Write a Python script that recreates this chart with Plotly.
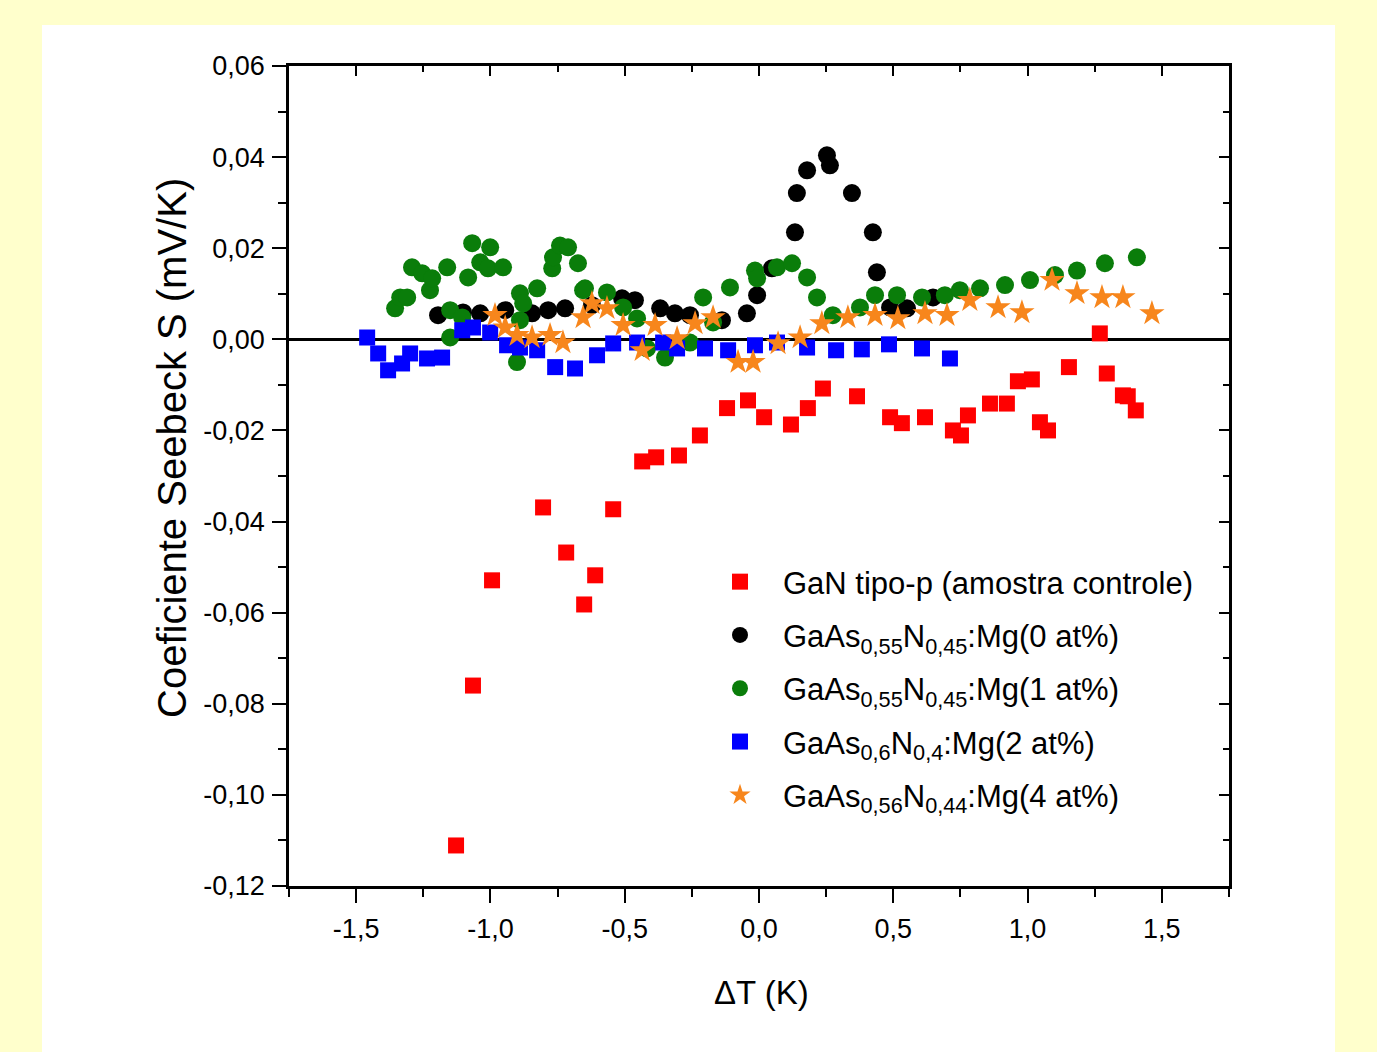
import plotly.graph_objects as go

# ---------------- data ----------------
red_x = [-1.128, -1.065, -0.994, -0.804, -0.718, -0.651, -0.610, -0.543, -0.435, -0.383,
         -0.298, -0.220, -0.119, -0.041, 0.019, 0.119, 0.182, 0.238, 0.365, 0.488,
         0.532, 0.618, 0.722, 0.752, 0.778, 0.860, 0.923, 0.964, 1.016, 1.046,
         1.076, 1.154, 1.269, 1.295, 1.355, 1.373, 1.403]
red_y = [-0.1111, -0.0760, -0.0529, -0.0369, -0.0468, -0.0582, -0.0518, -0.0373, -0.0268, -0.0259,
         -0.0255, -0.0211, -0.0151, -0.0134, -0.0171, -0.0187, -0.0151, -0.0108, -0.0125, -0.0171,
         -0.0184, -0.0171, -0.0200, -0.0211, -0.0167, -0.0141, -0.0141, -0.0092, -0.0088, -0.0182,
         -0.0200, -0.0061, 0.0013, -0.0075, -0.0123, -0.0125, -0.0156]

black_x = [-1.195, -1.102, -1.038, -0.945, -0.845, -0.785, -0.722, -0.622, -0.510, -0.462,
           -0.368, -0.313, -0.257, -0.138, -0.045, -0.007, 0.048, 0.134, 0.141, 0.179,
           0.253, 0.264, 0.346, 0.424, 0.439, 0.488, 0.551, 0.648]
black_y = [0.0053, 0.0059, 0.0057, 0.0064, 0.0057, 0.0064, 0.0068, 0.0075, 0.0090, 0.0086,
           0.0068, 0.0057, 0.0053, 0.0042, 0.0057, 0.0097, 0.0156, 0.0235, 0.0321, 0.0371,
           0.0404, 0.0382, 0.0321, 0.0235, 0.0147, 0.0070, 0.0068, 0.0092]

green_x = [-1.355, -1.336, -1.310, -1.292, -1.254, -1.225, -1.217, -1.161, -1.150, -1.150,
           -1.105, -1.083, -1.068, -1.038, -1.009, -1.001, -0.953, -0.901, -0.890, -0.890,
           -0.878, -0.826, -0.770, -0.767, -0.741, -0.711, -0.674, -0.655, -0.648, -0.566,
           -0.506, -0.454, -0.417, -0.350, -0.257, -0.208, -0.171, -0.108, -0.015, -0.007,
           0.067, 0.123, 0.179, 0.216, 0.275, 0.376, 0.432, 0.514, 0.607, 0.692,
           0.748, 0.823, 0.916, 1.009, 1.102, 1.184, 1.288, 1.407]
green_y = [0.0068, 0.0092, 0.0092, 0.0158, 0.0145, 0.0108, 0.0134, 0.0158, 0.0064, 0.0004,
           0.0048, 0.0136, 0.0211, 0.0169, 0.0156, 0.0202, 0.0158, -0.0050, 0.0101, 0.0042,
           0.0079, 0.0112, 0.0156, 0.0180, 0.0206, 0.0202, 0.0167, 0.0108, 0.0112, 0.0103,
           0.0070, 0.0046, -0.0020, -0.0040, -0.0007, 0.0092, 0.0037, 0.0114, 0.0151, 0.0134,
           0.0158, 0.0167, 0.0136, 0.0092, 0.0053, 0.0070, 0.0097, 0.0097, 0.0092, 0.0097,
           0.0108, 0.0112, 0.0119, 0.0130, 0.0141, 0.0151, 0.0167, 0.0180]

blue_x = [-1.459, -1.418, -1.381, -1.329, -1.299, -1.236, -1.180, -1.105, -1.065, -1.001,
          -0.938, -0.890, -0.826, -0.759, -0.685, -0.603, -0.543, -0.454, -0.357, -0.305,
          -0.201, -0.115, -0.015, 0.067, 0.179, 0.287, 0.383, 0.484, 0.607, 0.711]
blue_y = [0.0004, -0.0031, -0.0068, -0.0053, -0.0031, -0.0042, -0.0040, 0.0020, 0.0026, 0.0015,
          -0.0013, -0.0018, -0.0024, -0.0061, -0.0064, -0.0035, -0.0009, -0.0007, -0.0007, -0.0020,
          -0.0020, -0.0024, -0.0013, -0.0007, -0.0018, -0.0024, -0.0022, -0.0011, -0.0020, -0.0042]

orange_x = [-0.983, -0.945, -0.901, -0.845, -0.778, -0.730, -0.655, -0.622, -0.566, -0.506,
            -0.435, -0.387, -0.305, -0.238, -0.171, -0.078, -0.022, 0.071, 0.153, 0.234,
            0.331, 0.432, 0.517, 0.618, 0.700, 0.785, 0.890, 0.979, 1.091, 1.184,
            1.277, 1.355, 1.463]
orange_y = [0.0053, 0.0026, 0.0009, 0.0004, 0.0009, -0.0007, 0.0048, 0.0079, 0.0068, 0.0031,
            -0.0024, 0.0031, 0.0002, 0.0035, 0.0048, -0.0050, -0.0050, -0.0009, 0.0004, 0.0035,
            0.0048, 0.0053, 0.0046, 0.0057, 0.0053, 0.0086, 0.0070, 0.0059, 0.0130, 0.0101,
            0.0092, 0.0092, 0.0057]

series_names = [
    "GaN tipo-p (amostra controle)",
    "GaAs<sub>0,55</sub>N<sub>0,45</sub>:Mg(0 at%)",
    "GaAs<sub>0,55</sub>N<sub>0,45</sub>:Mg(1 at%)",
    "GaAs<sub>0,6</sub>N<sub>0,4</sub>:Mg(2 at%)",
    "GaAs<sub>0,56</sub>N<sub>0,44</sub>:Mg(4 at%)",
]

x_tickvals = [-1.5, -1.0, -0.5, 0.0, 0.5, 1.0, 1.5]
x_ticktext = ["-1,5", "-1,0", "-0,5", "0,0", "0,5", "1,0", "1,5"]
y_tickvals = [0.06, 0.04, 0.02, 0.0, -0.02, -0.04, -0.06, -0.08, -0.10, -0.12]
y_ticktext = ["0,06", "0,04", "0,02", "0,00", "-0,02", "-0,04", "-0,06", "-0,08", "-0,10", "-0,12"]

x_title = "ΔT (K)"
y_title = "Coeficiente Seebeck S (mV/K)"

# ---------------- figure ----------------
FONT = "Liberation Sans, Arial, sans-serif"
fig = go.Figure()

styles = [
    dict(symbol="square", color="#FF0000", size=16),
    dict(symbol="circle", color="#000000", size=18),
    dict(symbol="circle", color="#0A7D0A", size=18),
    dict(symbol="square", color="#0000FF", size=16),
    dict(symbol="star", color="#F7861C", size=19),
]
xs = [red_x, black_x, green_x, blue_x, orange_x]
ys = [red_y, black_y, green_y, blue_y, orange_y]
for i, (name, x, y, st) in enumerate(zip(series_names, xs, ys, styles)):
    fig.add_trace(go.Scatter(
        x=x, y=y, mode="markers", name=name, legendgroup=f"g{i}",
        marker=dict(symbol=st["symbol"], color=st["color"], size=st["size"],
                    line=dict(width=0)),
    ))

# empty trace so the mirrored top/right axes are created
fig.add_trace(go.Scatter(x=[], y=[], xaxis="x2", yaxis="y2", showlegend=False,
                         hoverinfo="skip"))

XR = [-1.75, 1.75]
YR = [-0.12, 0.06]
tickfont = dict(family=FONT, size=27, color="#000000")

fig.update_layout(
    width=1377, height=1052, autosize=False,
    margin=dict(l=289, r=148, t=66, b=166, pad=0),
    paper_bgcolor="#FFFFCC",
    plot_bgcolor="#FFFFFF",
    showlegend=True,
    legend=dict(
        x=(697 - 289) / 940, y=(886 - 555) / 820, xanchor="left", yanchor="top",
        bgcolor="rgba(0,0,0,0)", borderwidth=0,
        font=dict(family=FONT, size=31, color="#000000"),
        itemwidth=76, tracegroupgap=10,
    ),
    xaxis=dict(
        range=XR, tickmode="array", tickvals=x_tickvals, ticktext=x_ticktext,
        ticks="outside", ticklen=14, tickwidth=2, tickcolor="#000000",
        showline=True, linewidth=2.5, linecolor="#000000",
        showgrid=False, zeroline=False, tickfont=tickfont,
        minor=dict(tickmode="linear", tick0=0, dtick=0.25, ticks="outside",
                   ticklen=8, tickwidth=2, tickcolor="#000000", showgrid=False),
        ticklabelstandoff=3,
    ),
    yaxis=dict(
        range=YR, tickmode="array", tickvals=y_tickvals, ticktext=y_ticktext,
        ticks="outside", ticklen=14, tickwidth=2, tickcolor="#000000",
        showline=True, linewidth=2.5, linecolor="#000000",
        showgrid=False, zeroline=True, zerolinecolor="#000000", zerolinewidth=2.5,
        tickfont=tickfont,
        minor=dict(tickmode="linear", tick0=0, dtick=0.01, ticks="outside",
                   ticklen=8, tickwidth=2, tickcolor="#000000", showgrid=False),
        ticklabelstandoff=2,
    ),
    xaxis2=dict(
        range=XR, overlaying="x", side="top", anchor="y2",
        tickmode="array", tickvals=x_tickvals, showticklabels=False,
        ticks="inside", ticklen=10, tickwidth=2, tickcolor="#000000",
        showline=True, linewidth=2.5, linecolor="#000000",
        showgrid=False, zeroline=False,
        minor=dict(tickmode="linear", tick0=0, dtick=0.25, ticks="inside",
                   ticklen=6, tickwidth=2, tickcolor="#000000", showgrid=False),
    ),
    yaxis2=dict(
        range=YR, overlaying="y", side="right", anchor="x2",
        tickmode="array", tickvals=y_tickvals, showticklabels=False,
        ticks="inside", ticklen=10, tickwidth=2, tickcolor="#000000",
        showline=True, linewidth=2.5, linecolor="#000000",
        showgrid=False, zeroline=False,
        minor=dict(tickmode="linear", tick0=0, dtick=0.01, ticks="inside",
                   ticklen=6, tickwidth=2, tickcolor="#000000", showgrid=False),
    ),
    shapes=[dict(type="rect", xref="paper", yref="paper",
                 x0=(42 - 289) / 940, x1=(1335 - 289) / 940,
                 y0=-0.21, y1=(886 - 25) / 820,
                 fillcolor="#FFFFFF", line=dict(width=0), layer="below")],
    annotations=[
        dict(text=x_title, xref="paper", yref="paper", x=0.503, y=(886 - 992) / 820,
             xanchor="center", yanchor="middle", showarrow=False,
             font=dict(family=FONT, size=33, color="#000000")),
        dict(text=y_title, xref="paper", yref="paper", x=(172 - 289) / 940,
             y=(886 - 448) / 820, xanchor="center", yanchor="middle",
             textangle=-90, showarrow=False,
             font=dict(family=FONT, size=40, color="#000000")),
    ],
)

fig.write_html("out.html", config={"displayModeBar": False},
               post_script="document.body.style.margin='0px';")
